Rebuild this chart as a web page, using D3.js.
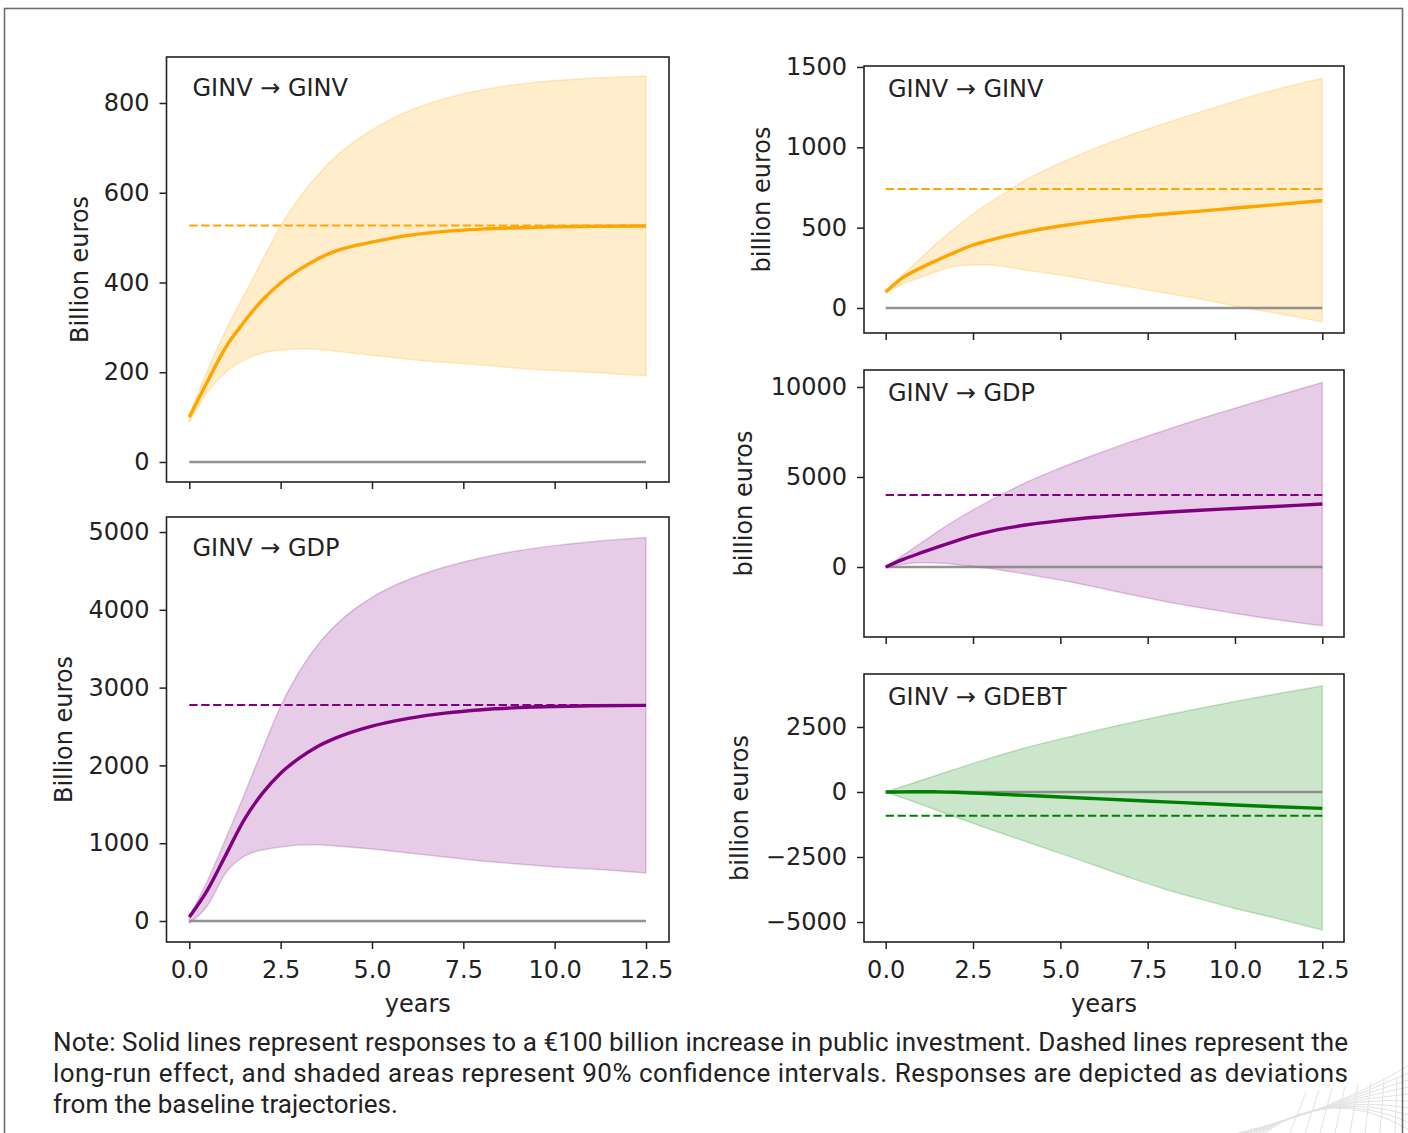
<!DOCTYPE html>
<html><head><meta charset="utf-8">
<script src="https://cdn.jsdelivr.net/npm/d3@7"></script>
<style>
html,body{margin:0;padding:0;background:#fff;}
svg{display:block;}
</style></head>
<body>
<svg id="chart" width="1408" height="1133"></svg>
<script>
// ---------------- DATA ----------------
const years = [0, 0.5, 1, 1.5, 2, 2.5, 3, 3.5, 4, 5, 6, 7, 8, 9, 10, 11, 12.5];
const xTickValues = [0, 2.5, 5, 7.5, 10, 12.5];
const xTickLabels = ["0.0", "2.5", "5.0", "7.5", "10.0", "12.5"];

// Left column: GINV -> GINV
const ginvL_mid = [100, 180, 256, 312, 361, 399, 428, 452, 470, 490, 505, 514, 519, 522, 524, 525, 526];
const ginvL_hi  = [105, 205, 294, 372, 450, 526, 588, 638, 680, 740, 782, 810, 829, 842, 850, 855, 860];
const ginvL_lo  = [88, 156, 200, 227, 243, 249, 252, 251, 247, 238, 229, 222, 216, 209, 204, 200, 192];
const ginvL_lr  = 527;
const ginvL_ticks = [0, 200, 400, 600, 800];
const ginvL_tickLabels = ["0", "200", "400", "600", "800"];

// Left column: GINV -> GDP
const gdpL_mid = [50, 400, 850, 1300, 1640, 1900, 2090, 2240, 2350, 2505, 2605, 2672, 2716, 2743, 2758, 2766, 2772];
const gdpL_hi  = [60, 520, 1060, 1620, 2200, 2760, 3200, 3540, 3800, 4160, 4390, 4550, 4670, 4760, 4825, 4875, 4930];
const gdpL_lo  = [-30, 200, 620, 830, 913, 950, 977, 980, 964, 925, 874, 822, 771, 733, 694, 668, 617];
const gdpL_lr  = 2776;
const gdpL_ticks = [0, 1000, 2000, 3000, 4000, 5000];
const gdpL_tickLabels = ["0", "1000", "2000", "3000", "4000", "5000"];

// Right column: GINV -> GINV
const ginvR_mid = [100, 190, 249, 300, 348, 392, 423, 450, 473, 510, 541, 566, 585, 603, 622, 640, 668];
const ginvR_hi  = [110, 210, 310, 410, 500, 585, 660, 728, 796, 902, 995, 1076, 1150, 1219, 1287, 1350, 1430];
const ginvR_lo  = [90, 150, 190, 230, 261, 267, 267, 254, 236, 205, 168, 130, 93, 56, 12, -25, -87];
const ginvR_lr  = 740;
const ginvR_ticks = [0, 500, 1000, 1500];
const ginvR_tickLabels = ["0", "500", "1000", "1500"];

// Right column: GINV -> GDP
const gdpR_mid = [0, 420, 780, 1120, 1440, 1740, 1980, 2170, 2330, 2570, 2760, 2910, 3040, 3150, 3250, 3350, 3500];
const gdpR_hi  = [0, 660, 1320, 1980, 2600, 3170, 3700, 4200, 4680, 5500, 6250, 6950, 7600, 8230, 8820, 9400, 10250];
const gdpR_lo  = [0, 150, 230, 220, 140, 30, -90, -230, -390, -720, -1110, -1530, -1920, -2270, -2580, -2880, -3270];
const gdpR_lr  = 4000;
const gdpR_ticks = [0, 5000, 10000];
const gdpR_tickLabels = ["0", "5000", "10000"];

// Right column: GINV -> GDEBT
const debtR_mid = [0, 5, 10, 5, -10, -40, -70, -100, -130, -190, -255, -320, -380, -440, -500, -555, -630];
const debtR_hi  = [0, 220, 440, 660, 880, 1100, 1310, 1510, 1700, 2040, 2360, 2660, 2950, 3220, 3480, 3730, 4080];
const debtR_lo  = [0, -230, -470, -720, -960, -1205, -1440, -1670, -1900, -2360, -2830, -3300, -3740, -4120, -4480, -4800, -5310];
const debtR_lr  = -910;
const debtR_ticks = [-5000, -2500, 0, 2500];
const debtR_tickLabels = ["\u22125000", "\u22122500", "0", "2500"];

const noteLines = [
  "Note: Solid lines represent responses to a \u20ac100 billion increase in public investment. Dashed lines represent the",
  "long-run effect, and shaded areas represent 90% confidence intervals. Responses are depicted as deviations",
  "from the baseline trajectories."
];

// ---------------- LAYOUT ----------------
const FONT = "'DejaVu Sans', sans-serif";
const panels = [
  {title:"GINV \u2192 GINV", mid:ginvL_mid, hi:ginvL_hi, lo:ginvL_lo, lr:ginvL_lr, ticks:ginvL_ticks, tl:ginvL_tickLabels,
   color:"#FFA500", x0:166.5, x1:669, y0:57, y1:482, ydom:[-44.6, 902.5], xr:[189.3, 646], titleDy:39, ylab:"Billion euros", ylabX:88, xlabels:false},
  {title:"GINV \u2192 GDP", mid:gdpL_mid, hi:gdpL_hi, lo:gdpL_lo, lr:gdpL_lr, ticks:gdpL_ticks, tl:gdpL_tickLabels,
   color:"#800080", x0:166.5, x1:669, y0:517, y1:942, ydom:[-270, 5193], xr:[189.3, 646], titleDy:39, ylab:"Billion euros", ylabX:72, xlabels:true},
  {title:"GINV \u2192 GINV", mid:ginvR_mid, hi:ginvR_hi, lo:ginvR_lo, lr:ginvR_lr, ticks:ginvR_ticks, tl:ginvR_tickLabels,
   color:"#FFA500", x0:864, x1:1344, y0:66, y1:333, ydom:[-155.6, 1506], xr:[885.7, 1322.3], titleDy:31, ylab:"billion euros", ylabX:770, xlabels:false},
  {title:"GINV \u2192 GDP", mid:gdpR_mid, hi:gdpR_hi, lo:gdpR_lo, lr:gdpR_lr, ticks:gdpR_ticks, tl:gdpR_tickLabels,
   color:"#800080", x0:864, x1:1344, y0:370, y1:637, ydom:[-3889, 10944], xr:[885.7, 1322.3], titleDy:31, ylab:"billion euros", ylabX:752, xlabels:false},
  {title:"GINV \u2192 GDEBT", mid:debtR_mid, hi:debtR_hi, lo:debtR_lo, lr:debtR_lr, ticks:debtR_ticks, tl:debtR_tickLabels,
   color:"#008000", x0:864, x1:1344, y0:674, y1:942, ydom:[-5769, 4538], xr:[885.7, 1322.3], titleDy:31, ylab:"billion euros", ylabX:748, xlabels:true}
];

const svg = d3.select("#chart");
svg.append("rect").attr("width",1408).attr("height",1133).attr("fill","#fff");

// decorative faint mesh bottom-right
const deco = svg.append("g").attr("fill","none").attr("stroke","#e2e2e2").attr("stroke-width",1);
for (let i = 0; i < 10; i++) {
  deco.append("path").attr("d", `M${1238 + i*3},1133 Q${1330},${1112 - i*3} 1408,${1066 + i*7}`);
}
for (let i = 0; i < 8; i++) {
  deco.append("path").attr("d", `M${1290 + i*15},1133 L${1306 + i*13},${1092 - i*2}`);
}

// outer border
svg.append("rect").attr("x",4.5).attr("y",8.5).attr("width",1398).attr("height",1140)
  .attr("fill","none").attr("stroke","#6e6e6e").attr("stroke-width",1.6);

panels.forEach(p => {
  const x = d3.scaleLinear().domain([0, 12.5]).range(p.xr);
  const y = d3.scaleLinear().domain(p.ydom).range([p.y1, p.y0]);
  const g = svg.append("g");
  const clipId = "clip" + Math.round(p.y0);
  g.append("clipPath").attr("id", clipId).append("rect")
    .attr("x", p.x0).attr("y", p.y0).attr("width", p.x1 - p.x0).attr("height", p.y1 - p.y0);
  const inner = g.append("g").attr("clip-path", `url(#${clipId})`);

  const pts = years.map((t, i) => ({t, m:p.mid[i], h:p.hi[i], l:p.lo[i]}));
  const area = d3.area().x(d => x(d.t)).y0(d => y(d.l)).y1(d => y(d.h)).curve(d3.curveMonotoneX);
  inner.append("path").datum(pts).attr("d", area)
    .attr("fill", p.color).attr("fill-opacity", 0.2)
    .attr("stroke", p.color).attr("stroke-opacity", 0.2).attr("stroke-width", 1.5);

  // zero baseline
  inner.append("line").attr("x1", x(0)).attr("x2", x(12.5)).attr("y1", y(0)).attr("y2", y(0))
    .attr("stroke", "#808080").attr("stroke-opacity", 0.85).attr("stroke-width", 2.4);

  // long-run dashed
  inner.append("line").attr("x1", x(0)).attr("x2", x(12.5)).attr("y1", y(p.lr)).attr("y2", y(p.lr))
    .attr("stroke", p.color).attr("stroke-width", 2).attr("stroke-dasharray", "8.3,3.6");

  // response line
  const line = d3.line().x(d => x(d.t)).y(d => y(d.m)).curve(d3.curveMonotoneX);
  inner.append("path").datum(pts).attr("d", line)
    .attr("fill", "none").attr("stroke", p.color).attr("stroke-width", 3.4);

  // axes
  const ya = d3.axisLeft(y).tickValues(p.ticks).tickFormat((d, i) => p.tl[i]).tickSize(7).tickPadding(10);
  const yg = g.append("g").attr("transform", `translate(${p.x0},0)`).call(ya);
  const xa = d3.axisBottom(x).tickValues(xTickValues).tickFormat((d, i) => p.xlabels ? xTickLabels[i] : "").tickSize(7).tickPadding(12);
  const xg = g.append("g").attr("transform", `translate(0,${p.y1})`).call(xa);
  [yg, xg].forEach(a => {
    a.select(".domain").remove();
    a.selectAll(".tick line").attr("stroke", "#222").attr("stroke-width", 1.5);
    a.selectAll(".tick text").attr("fill", "#222").style("font-family", FONT).style("font-size", "24px");
  });

  // frame
  g.append("rect").attr("x", p.x0).attr("y", p.y0).attr("width", p.x1 - p.x0).attr("height", p.y1 - p.y0)
    .attr("fill", "none").attr("stroke", "#222").attr("stroke-width", 1.6);

  // title
  g.append("text").attr("x", p.x0 + 26 - (p.x0 > 800 ? 2 : 0)).attr("y", p.y0 + p.titleDy)
    .attr("fill", "#222").style("font-family", FONT).style("font-size", "24px").text(p.title);

  // y label
  g.append("text").attr("transform", `translate(${p.ylabX},${(p.y0 + p.y1) / 2}) rotate(-90)`)
    .attr("text-anchor", "middle").attr("fill", "#222").style("font-family", FONT).style("font-size", "24px")
    .text(p.ylab);

  if (p.xlabels) {
    g.append("text").attr("x", (p.x0 + p.x1) / 2).attr("y", 1012).attr("text-anchor", "middle")
      .attr("fill", "#222").style("font-family", FONT).style("font-size", "24px").text("years");
  }
});

// note
const note = svg.append("g").style("font-family", "Roboto, sans-serif").style("font-size", "26px").attr("fill", "#222");
noteLines.forEach((s, i) => {
  const t = note.append("text").attr("x", 53).attr("y", 1051 + i * 31).text(s);
  if (i < 2) t.attr("textLength", 1295).attr("lengthAdjust", "spacing");
});
</script>
</body></html>
